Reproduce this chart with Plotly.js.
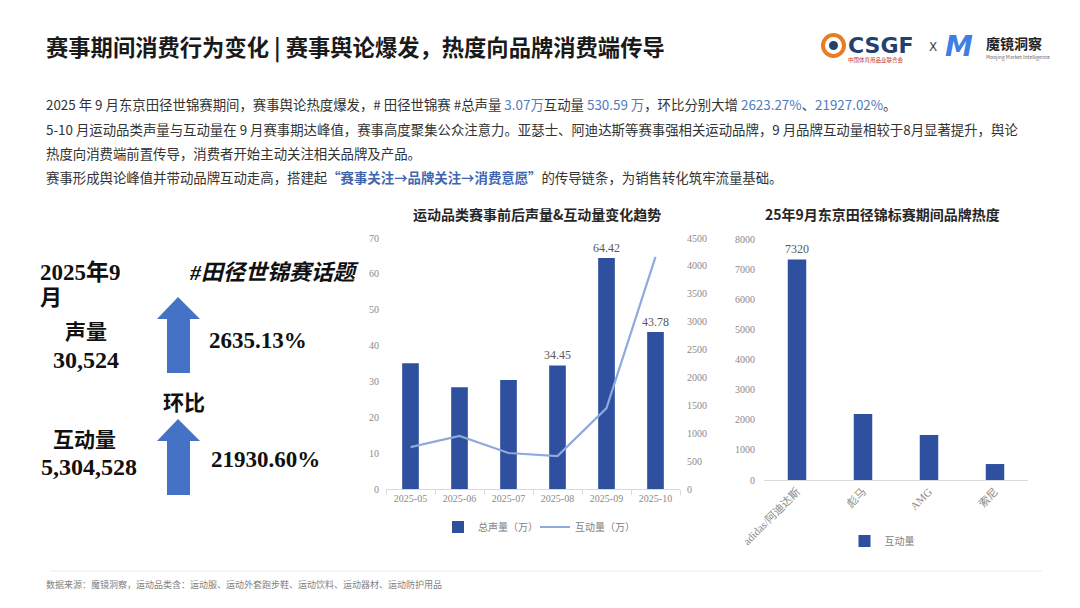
<!DOCTYPE html>
<html>
<head>
<meta charset="utf-8">
<script src="https://cdn.plot.ly/plotly-3.0.1.min.js"></script>
<style>
html,body{margin:0;padding:0;background:#fff;}
#chart{width:1080px;height:608px;}
</style>
</head>
<body>
<div id="chart"></div>
<script>
// ---------- data ----------
const months = ['2025-05','2025-06','2025-07','2025-08','2025-09','2025-10'];
const volume = [35.1, 28.4, 30.4, 34.45, 64.42, 43.78];          // 总声量（万）
const volumeLabels = ['', '', '', '34.45', '64.42', '43.78'];
const interactions = [750, 950, 645, 590, 1450, 4160];            // 互动量（万）
const brands = ['adidas/阿迪达斯', '彪马', 'AMG', '索尼'];
const brandInteractions = [7320, 2190, 1495, 530];
const brandLabels = ['7320', '', '', ''];

// ---------- helpers ----------
const W = 1080, H = 608;
const X = px => px / W;
const Y = py => 1 - py / H;
const SANS = '"Noto Sans CJK SC", "Noto Sans", sans-serif';
const SERIF = '"Liberation Serif", "DejaVu Serif", "Noto Sans CJK SC", serif';
const BAR = '#2E509F';
const LINE = '#8EA9DB';
const ARROW = '#4472C4';
const TICK = '#8a8a8a';

function ann(text, px, py, opts) {
  return Object.assign({
    text: text, x: X(px), y: Y(py), xref: 'paper', yref: 'paper',
    xanchor: 'left', yanchor: 'middle', showarrow: false,
    font: {family: SANS, size: 12, color: '#333'}
  }, opts || {});
}
function path(points) {
  return 'M ' + points.map(p => X(p[0]) + ',' + Y(p[1])).join(' L ') + ' Z';
}
function arrow(tipY, baseY, bottomY) {
  return {
    type: 'path', xref: 'paper', yref: 'paper', line: {width: 0}, fillcolor: ARROW,
    path: path([[178, tipY], [200, baseY], [190, baseY], [190, bottomY], [167, bottomY], [167, baseY], [157, baseY]])
  };
}

// ---------- traces ----------
const traces = [
  {
    type: 'bar', x: months, y: volume, name: '总声量（万）',
    marker: {color: BAR}, width: 0.34,
    text: volumeLabels, textposition: 'outside', cliponaxis: false, constraintext: 'none',
    textfont: {family: SERIF, size: 12, color: '#595959'},
    xaxis: 'x', yaxis: 'y', legend: 'legend'
  },
  {
    type: 'scatter', mode: 'lines', x: months, y: interactions, name: '互动量（万）',
    line: {color: LINE, width: 2.2},
    xaxis: 'x', yaxis: 'y2', legend: 'legend'
  },
  {
    type: 'bar', x: brands, y: brandInteractions, name: '互动量',
    marker: {color: BAR}, width: 0.28,
    text: brandLabels, textposition: 'outside', cliponaxis: false, constraintext: 'none',
    textfont: {family: SERIF, size: 12, color: '#595959'},
    xaxis: 'x3', yaxis: 'y3', legend: 'legend2'
  }
];

const tickFont = {family: SERIF, size: 10, color: TICK};
const PARA = {family: SANS, size: 13.4, color: '#333'};

const annotations = [
  // main title
  ann('<b>赛事期间消费行为变化 | 赛事舆论爆发，热度向品牌消费端传导</b>', 44, 47,
      {font: {family: SANS, size: 22.3, color: '#1a1a1a'}}),
  // paragraph
  ann('2025 年 9 月东京田径世锦赛期间，赛事舆论热度爆发，# 田径世锦赛 #总声量 <span style="color:#4F7CC0">3.07万</span>互动量 <span style="color:#4F7CC0">530.59 万</span>，环比分别大增 <span style="color:#4F7CC0">2623.27%</span>、<span style="color:#4F7CC0">21927.02%</span>。', 44, 104,
      {font: PARA}),
  ann('5-10 月运动品类声量与互动量在 9 月赛事期达峰值，赛事高度聚集公众注意力。亚瑟士、阿迪达斯等赛事强相关运动品牌，9 月品牌互动量相较于8月显著提升，舆论', 44, 129,
      {font: PARA}),
  ann('热度向消费端前置传导，消费者开始主动关注相关品牌及产品。', 44, 153,
      {font: PARA}),
  ann('赛事形成舆论峰值并带动品牌互动走高，搭建起<span style="color:#3E66B0"><b>“赛事关注→品牌关注→消费意愿”</b></span>的传导链条，为销售转化筑牢流量基础。', 44, 177,
      {font: PARA}),
  // chart titles
  ann('<b>运动品类赛事前后声量&互动量变化趋势</b>', 537, 214,
      {xanchor: 'center', font: {family: SANS, size: 14, color: '#262626'}}),
  ann('<b>25年9月东京田径锦标赛期间品牌热度</b>', 882, 214,
      {xanchor: 'center', font: {family: SANS, size: 14, color: '#262626'}}),
  // left panel
  ann('<b>2025年9</b>', 38, 272, {font: {family: SERIF, size: 23, color: '#111'}}),
  ann('<b>月</b>', 38, 298, {font: {family: SERIF, size: 22, color: '#111'}}),
  ann('<b><i>#田径世锦赛话题</i></b>', 187, 272, {font: {family: SERIF, size: 22, color: '#111'}}),
  ann('<b>声量</b>', 63, 332, {font: {family: SERIF, size: 21, color: '#111'}}),
  ann('<b>30,524</b>', 51, 360, {font: {family: SERIF, size: 24, color: '#111'}}),
  ann('<b>2635.13%</b>', 207, 340, {font: {family: SERIF, size: 23, color: '#111'}}),
  ann('<b>环比</b>', 161, 403, {font: {family: SERIF, size: 21, color: '#111'}}),
  ann('<b>互动量</b>', 51, 440, {font: {family: SERIF, size: 21, color: '#111'}}),
  ann('<b>5,304,528</b>', 39, 467, {font: {family: SERIF, size: 24, color: '#111'}}),
  ann('<b>21930.60%</b>', 209, 459, {font: {family: SERIF, size: 23, color: '#111'}}),
  // logos
  ann('<b>CSGF</b>', 846, 45, {font: {family: '"DejaVu Sans", sans-serif', size: 22, color: '#24406F'}}),
  ann('中国体育用品业联合会', 846, 60, {font: {family: SANS, size: 5.5, color: '#C0392B'}}),
  ann('X', 927, 47, {font: {family: '"DejaVu Sans", sans-serif', size: 12, color: '#444'}}),
  ann('<b><i>M</i></b>', 943, 46, {font: {family: '"DejaVu Sans", sans-serif', size: 28, color: '#3D7FE3'}}),
  ann('<b>魔镜洞察</b>', 984, 43, {font: {family: SANS, size: 14, color: '#222'}}),
  ann('Moojing Market Intelligence', 984, 57, {font: {family: SANS, size: 5, color: '#666'}}),
  // footer
  ann('数据来源：魔镜洞察，运动品类含：运动服、运动外套跑步鞋、运动饮料、运动器材、运动防护用品', 44, 584,
      {font: {family: SANS, size: 9, color: '#7f7f7f'}})
];

const shapes = [
  arrow(297, 319, 373),
  arrow(419, 441, 495),
  // footer rule
  {type: 'line', xref: 'paper', yref: 'paper', x0: X(50), x1: X(1042), y0: Y(571), y1: Y(571),
   line: {color: '#ececec', width: 1}},
  // CSGF swirl mark
  {type: 'circle', xref: 'paper', yref: 'paper', x0: X(823), x1: X(844), y0: Y(56), y1: Y(35),
   line: {color: '#E67E22', width: 4}, fillcolor: 'rgba(0,0,0,0)'},
  {type: 'circle', xref: 'paper', yref: 'paper', x0: X(829), x1: X(838), y0: Y(50), y1: Y(41),
   line: {width: 0}, fillcolor: '#24406F'}
];

const layout = {
  width: W, height: H,
  margin: {l: 0, r: 0, t: 0, b: 0},
  paper_bgcolor: '#fff', plot_bgcolor: 'rgba(0,0,0,0)',
  font: {family: SANS, color: '#333'},
  bargap: 0.2,
  xaxis: {
    domain: [X(386), X(680)], anchor: 'y', type: 'category',
    showline: true, linecolor: '#d9d9d9', linewidth: 1,
    ticks: 'outside', tickson: 'boundaries', ticklen: 5, tickcolor: '#d9d9d9',
    showgrid: false, tickfont: tickFont, fixedrange: true
  },
  yaxis: {
    domain: [Y(489), Y(238)], anchor: 'x', range: [0, 70], dtick: 10,
    showgrid: false, zeroline: false, showline: false, ticks: '',
    tickfont: tickFont, ticklabelstandoff: 6
  },
  yaxis2: {
    overlaying: 'y', side: 'right', anchor: 'x', range: [0, 4500], dtick: 500,
    showgrid: false, zeroline: false, showline: false, ticks: '',
    tickfont: tickFont, ticklabelstandoff: 6
  },
  xaxis3: {
    domain: [X(764), X(1028)], anchor: 'y3', type: 'category',
    showline: true, linecolor: '#d9d9d9', linewidth: 1, ticks: '',
    showgrid: false, tickangle: -45, tickfont: {family: SERIF, size: 11, color: TICK}
  },
  yaxis3: {
    domain: [Y(480), Y(239)], anchor: 'x3', range: [0, 8000], dtick: 1000,
    showgrid: false, zeroline: false, showline: false, ticks: '',
    tickfont: tickFont, ticklabelstandoff: 8
  },
  legend: {
    orientation: 'h', x: X(535), xanchor: 'center', y: Y(527), yanchor: 'middle',
    font: {family: SANS, size: 10, color: '#7f7f7f'}, bgcolor: 'rgba(0,0,0,0)',
    itemwidth: 30, traceorder: 'normal', entrywidth: 52, entrywidthmode: 'pixels'
  },
  legend2: {
    orientation: 'h', x: X(882), xanchor: 'center', y: Y(541), yanchor: 'middle',
    font: {family: SANS, size: 10, color: '#7f7f7f'}, bgcolor: 'rgba(0,0,0,0)'
  },
  showlegend: true,
  annotations: annotations,
  shapes: shapes
};

Plotly.newPlot('chart', traces, layout, {displayModeBar: false, staticPlot: true});
</script>
</body>
</html>
